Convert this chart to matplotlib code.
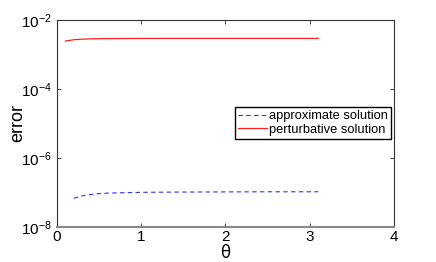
import matplotlib
matplotlib.use("Agg")
import matplotlib.pyplot as plt

plt.rcParams['font.family'] = ['Liberation Sans', 'DejaVu Sans']

# theta grid
theta_pert = [0.1, 0.2, 0.3, 0.4, 0.5, 0.6, 0.8, 1.0, 1.2, 1.5, 2.0, 2.5, 3.0, 3.1]
err_pert = [2.45e-3, 2.68e-3, 2.78e-3, 2.84e-3, 2.87e-3, 2.89e-3, 2.91e-3,
            2.92e-3, 2.93e-3, 2.93e-3, 2.93e-3, 2.93e-3, 2.93e-3, 2.93e-3]

theta_approx = [0.2, 0.3, 0.4, 0.5, 0.6, 0.8, 1.0, 1.2, 1.5, 2.0, 2.5, 3.0, 3.1]
err_approx = [6.8e-8, 8.0e-8, 8.8e-8, 9.3e-8, 9.6e-8, 9.9e-8, 1.01e-7,
              1.02e-7, 1.03e-7, 1.04e-7, 1.05e-7, 1.05e-7, 1.05e-7]

fig = plt.figure(figsize=(4.36, 2.62), dpi=100)
ax = fig.add_axes([0.1307, 0.1336, 0.7730, 0.7901])

ax.semilogy(theta_approx, err_approx, '--', color='#3333ff', lw=0.8, dashes=(4, 3),
            label='approximate solution')
ax.semilogy(theta_pert, err_pert, '-', color='#ff2020', lw=0.9,
            label='perturbative solution')

ax.set_xlim(0, 4)
ax.set_ylim(1e-8, 1e-2)
ax.set_xticks([0, 1, 2, 3, 4])
ax.set_yticks([1e-8, 1e-6, 1e-4, 1e-2])
ax.minorticks_off()
ax.tick_params(direction='in', top=True, right=True, labelsize=11, length=3, width=0.5)
ax.tick_params(axis='x', pad=2)
for s in ax.spines.values():
    s.set_linewidth(0.8)
    s.set_color('#333333')
ax.spines['bottom'].set_color('#888888')
ax.spines['bottom'].set_linewidth(1.5)

ax.set_xlabel('θ', fontsize=12, family=['DejaVu Sans'], va='center')
ax.xaxis.set_label_coords(0.5, -0.125)
ax.set_ylabel('error', fontsize=13, va='center')
ax.yaxis.set_label_coords(-0.116, 0.5)

ax.legend(loc='upper left', bbox_to_anchor=(0.528, 0.58), fontsize=9.3, frameon=True,
          fancybox=False, edgecolor='black', framealpha=1, handlelength=2.2,
          handletextpad=0.2, borderpad=0.25, labelspacing=0.1, borderaxespad=0)

fig.savefig('out.png', dpi=100)
